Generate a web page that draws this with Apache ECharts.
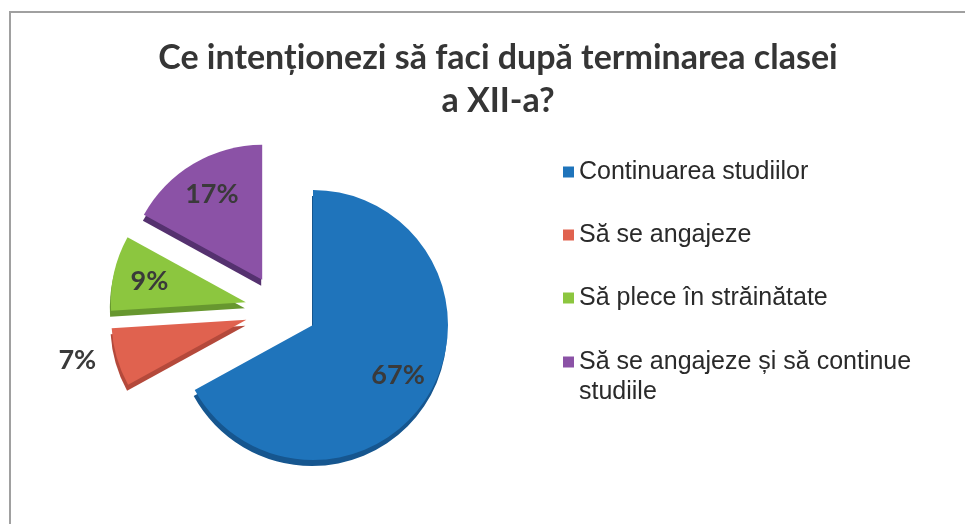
<!DOCTYPE html>
<html>
<head>
<meta charset="utf-8">
<script src="https://cdn.jsdelivr.net/npm/echarts@6/dist/echarts.min.js"></script>
<style>html,body{margin:0;padding:0;background:#fff}#c{width:965px;height:524px}</style>
</head>
<body>
<div id="c"></div>
<script>
const titleText = 'Ce intenționezi să faci după terminarea clasei\na XII-a?';
const categories = ['Continuarea studiilor', 'Să se angajeze', 'Să plece în străinătate', 'Să se angajeze și să continue studiile'];
const legendLabels = ['Continuarea studiilor', 'Să se angajeze', 'Să plece în străinătate', 'Să se angajeze și să continue\nstudiile'];
const values = [67, 7, 9, 17];
const colors = ['#1f74bb', '#e0624f', '#8cc63f', '#8b52a6'];
const sideColors = ['#16568f', '#b4493b', '#67972f', '#55316f'];
const exploded = [false, true, true, true];
const labelPlaces = ['inside', 'outside', 'inside', 'inside'];

const chart = echarts.init(document.getElementById('c'), null, {renderer: 'canvas'});
const R = 135;
const mainCenter = [313, 325];
const explodedCenter = [280, 310];
const explodeOffset = 35;
const labelFont = {fontFamily: 'Lato', fontWeight: 'bold', fontSize: 27, color: '#3a3a3a'};
const clear = 'rgba(0,0,0,0)';

function sliceSeries(centerPt, showExploded) {
  return {
    type: 'pie', center: centerPt, radius: R, startAngle: 90, clockwise: true,
    selectedMode: 'multiple', selectedOffset: explodeOffset, silent: true,
    label: {show: false}, labelLine: {show: false},
    data: categories.map((n, i) => {
      const visible = exploded[i] === showExploded;
      return {
        name: n, value: values[i], selected: exploded[i],
        itemStyle: visible
          ? {color: colors[i], shadowColor: sideColors[i], shadowBlur: 0, shadowOffsetX: -1, shadowOffsetY: 6}
          : {color: clear}
      };
    })
  };
}
function labelSeries(centerPt, showExploded) {
  return {
    type: 'pie', center: centerPt, radius: [R * 0.42, R], startAngle: 90, clockwise: true,
    selectedMode: 'multiple', selectedOffset: explodeOffset, silent: true,
    itemStyle: {color: clear},
    label: Object.assign({show: true, formatter: '{c}%'}, labelFont),
    data: categories.map((n, i) => ({
      name: n, value: values[i], selected: exploded[i],
      label: {show: exploded[i] === showExploded, position: labelPlaces[i]},
      labelLine: {show: false, length: 12, length2: 4}
    }))
  };
}

const legendText = {fontFamily: 'Liberation Sans', fontSize: 25, lineHeight: 30, color: '#2a2a2a'};
chart.setOption({
  backgroundColor: '#fff',
  animation: false,
  title: {
    text: titleText, left: 493, top: 32, textAlign: 'center',
    textStyle: {fontFamily: 'Lato', fontWeight: 'bold', fontSize: 34, lineHeight: 43, color: '#353535'}
  },
  graphic: [{type: 'rect', shape: {x: 10, y: 12, width: 970, height: 530}, style: {fill: 'none', stroke: '#a0a0a0', lineWidth: 2}, silent: true}],
  legend: [{
    data: categories.slice(0, 3).map((n, i) => ({name: n, itemStyle: {color: colors[i]}})),
    orient: 'vertical', left: 563, top: 157, padding: 0,
    itemWidth: 11, itemHeight: 11, itemGap: 33, icon: 'rect',
    formatter: n => legendLabels[categories.indexOf(n)],
    textStyle: legendText
  }, {
    data: [{name: categories[3], itemStyle: {color: colors[3]}}],
    orient: 'vertical', left: 563, top: 317, padding: 0,
    itemWidth: 11, itemHeight: 11, icon: 'rect',
    formatter: n => ' \n' + legendLabels[categories.indexOf(n)],
    textStyle: legendText
  }],
  series: [
    sliceSeries(mainCenter, false),
    sliceSeries(explodedCenter, true),
    labelSeries(mainCenter, false),
    labelSeries(explodedCenter, true)
  ]
});
</script>
</body>
</html>
